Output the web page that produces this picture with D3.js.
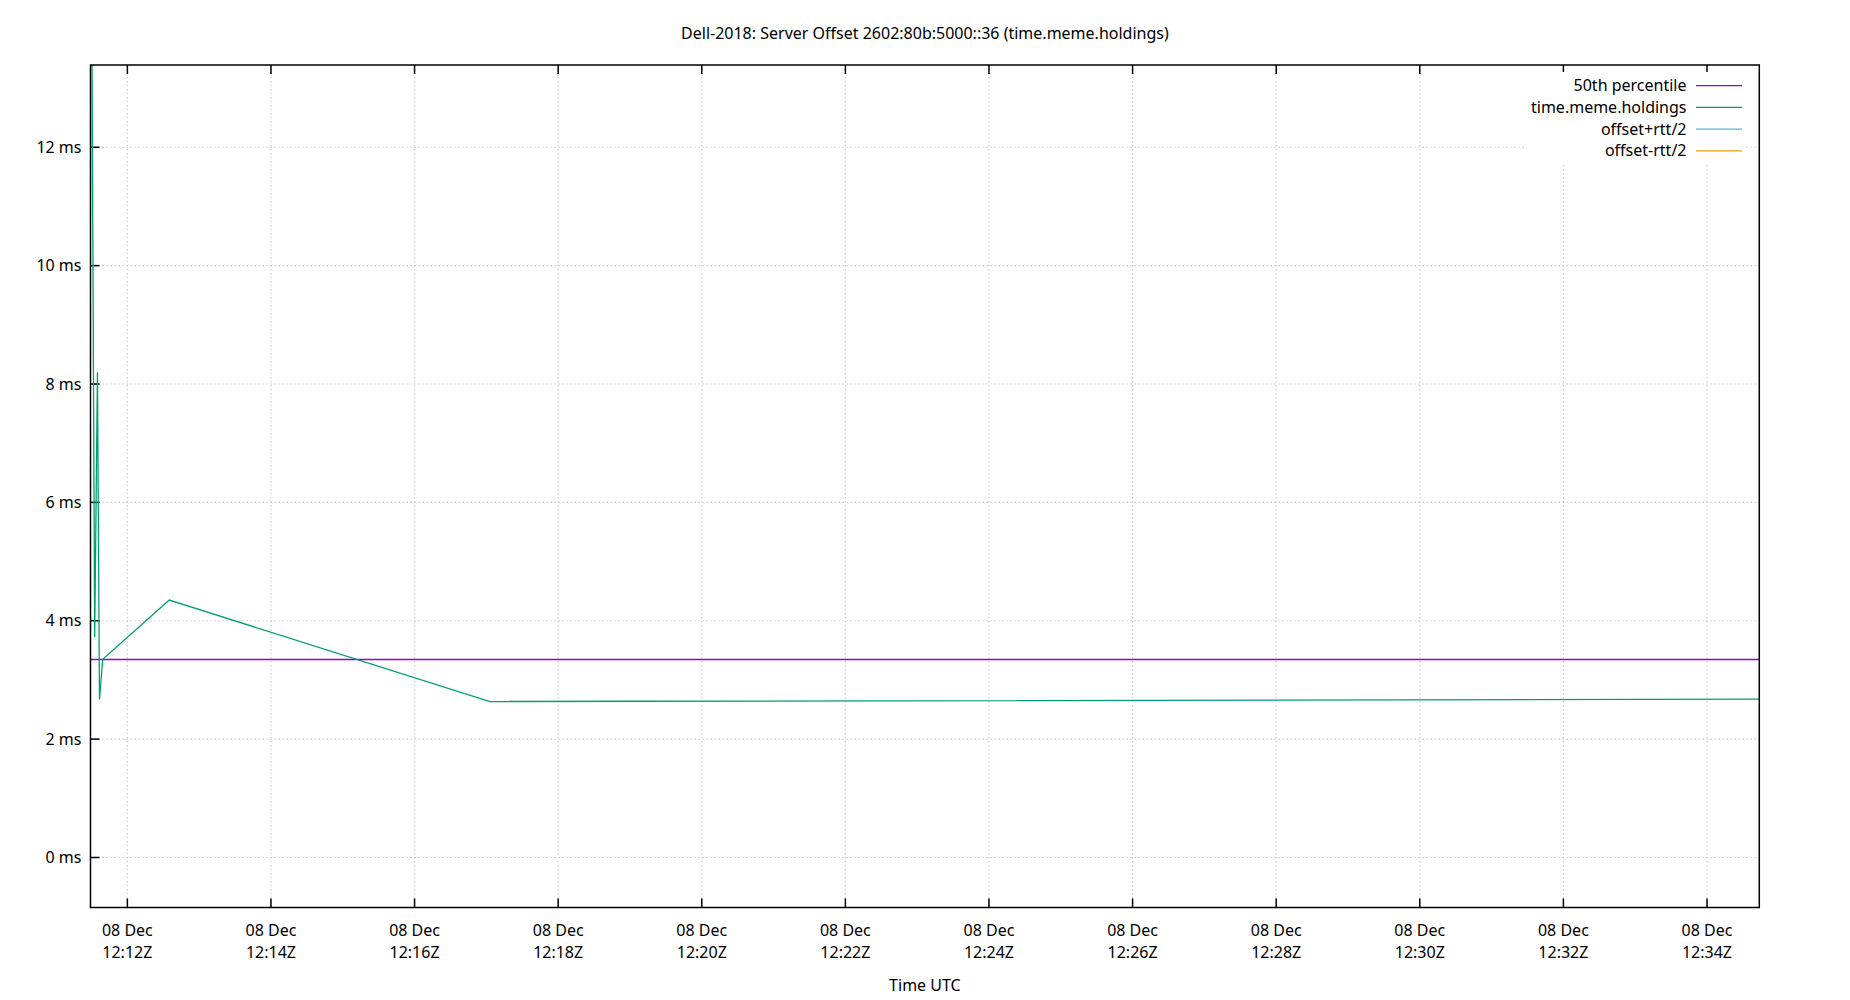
<!DOCTYPE html>
<html>
<head>
<meta charset="utf-8">
<script src="https://cdn.jsdelivr.net/npm/d3@7"></script>
<style>
  body { margin: 0; background: #fff; }
  svg { font-family: "Noto Sans", sans-serif; }
  .grid line { stroke: #c4c4c4; stroke-width: 1.2; stroke-dasharray: 1.3,2.7; }
  .tick-label { font-size: 16px; fill: #000; }
</style>
</head>
<body>
<div id="chart"></div>
<script>
// chart data
const title = "Dell-2018: Server Offset 2602:80b:5000::36 (time.meme.holdings)";
const xLabel = "Time UTC";
const seriesNames = ["50th percentile", "time.meme.holdings", "offset+rtt/2", "offset-rtt/2"];
const seriesColors = ["#9400d3", "#009e73", "#56b4e9", "#e69f00"];

const sampleTimes = [
    "2018-12-08T12:11:29.2Z", "2018-12-08T12:11:32.7Z", "2018-12-08T12:11:35.0Z",
    "2018-12-08T12:11:36.7Z", "2018-12-08T12:11:39.4Z", "2018-12-08T12:12:35.0Z",
    "2018-12-08T12:17:03.0Z", "2018-12-08T12:34:43.7Z"
];
const offsetMs = [19.0, 3.72, 8.2, 2.67, 3.35, 4.35, 2.635, 2.675];
const percentile50 = 3.345;
const yTicks = [0, 2, 4, 6, 8, 10, 12];
const yRange = [-0.845, 13.39];

// layout
const width = 1850, height = 1000;
const margin = {top: 65, right: 90.7, bottom: 92.5, left: 90.5};
const plotW = width - margin.left - margin.right;
const plotH = height - margin.top - margin.bottom;

const svg = d3.select("#chart").append("svg")
    .attr("width", width)
    .attr("height", height);

const times = sampleTimes.map(d => new Date(d));
const data = times.map((t, i) => ({t: t, v: offsetMs[i]}));

const x = d3.scaleUtc()
    .domain([times[0], times[times.length - 1]])
    .range([margin.left, margin.left + plotW]);

const y = d3.scaleLinear()
    .domain(yRange)
    .range([margin.top + plotH, margin.top]);

const xTicks = x.ticks(d3.utcMinute.every(2));

// grid
const grid = svg.append("g").attr("class", "grid");
grid.selectAll(".gx").data(xTicks).enter().append("line")
    .attr("x1", d => x(d)).attr("x2", d => x(d))
    .attr("y1", margin.top).attr("y2", margin.top + plotH);
grid.selectAll(".gy").data(yTicks).enter().append("line")
    .attr("x1", margin.left).attr("x2", margin.left + plotW)
    .attr("y1", d => y(d)).attr("y2", d => y(d));

// tick marks (inward, x mirrored on top)
const ticks = svg.append("g").attr("stroke", "#000").attr("stroke-width", 1.5);
xTicks.forEach(function(d) {
    ticks.append("line").attr("x1", x(d)).attr("x2", x(d))
        .attr("y1", margin.top + plotH).attr("y2", margin.top + plotH - 9);
    ticks.append("line").attr("x1", x(d)).attr("x2", x(d))
        .attr("y1", margin.top).attr("y2", margin.top + 9);
});
yTicks.forEach(function(d) {
    ticks.append("line").attr("x1", margin.left).attr("x2", margin.left + 9)
        .attr("y1", y(d)).attr("y2", y(d));
});

// labels
const fmtDay = d3.utcFormat("%d %b");
const fmtTime = d3.utcFormat("%H:%MZ");
const xl = svg.append("g");
xTicks.forEach(function(d) {
    let t = xl.append("text").attr("class", "tick-label")
        .attr("text-anchor", "middle")
        .attr("x", x(d));
    t.append("tspan").attr("x", x(d)).attr("y", 936).text(fmtDay(d));
    t.append("tspan").attr("x", x(d)).attr("y", 958).text(fmtTime(d));
});
svg.append("g").selectAll("text").data(yTicks).enter().append("text")
    .attr("class", "tick-label")
    .attr("text-anchor", "end")
    .attr("x", 81.5)
    .attr("y", d => y(d) + 5.5)
    .text(d => d + " ms");

svg.append("text")
    .attr("x", margin.left + plotW / 2)
    .attr("y", 39)
    .attr("text-anchor", "middle")
    .style("font-size", "16px")
    .text(title);

svg.append("text")
    .attr("x", margin.left + plotW / 2)
    .attr("y", 991)
    .attr("text-anchor", "middle")
    .style("font-size", "16px")
    .text(xLabel);

// series
svg.append("clipPath").attr("id", "plot-clip")
    .append("rect")
    .attr("x", margin.left).attr("y", margin.top)
    .attr("width", plotW).attr("height", plotH);

const plot = svg.append("g").attr("clip-path", "url(#plot-clip)");

plot.append("line")
    .attr("x1", x.range()[0]).attr("x2", x.range()[1])
    .attr("y1", y(percentile50)).attr("y2", y(percentile50))
    .attr("stroke", seriesColors[0])
    .attr("stroke-width", 1.3);

const line = d3.line()
    .x(d => x(d.t))
    .y(d => y(d.v));

plot.append("path")
    .datum(data)
    .attr("fill", "none")
    .attr("stroke", seriesColors[1])
    .attr("stroke-width", 1.3)
    .attr("d", line);

// legend
svg.append("rect")
    .attr("x", 1527).attr("y", 72)
    .attr("width", 218).attr("height", 92)
    .attr("fill", "#fff");

seriesNames.forEach(function(name, i) {
    let cy = 85.7 + i * 21.7;
    svg.append("text")
        .attr("x", 1686.5)
        .attr("y", cy + 5.5)
        .attr("text-anchor", "end")
        .style("font-size", "16px")
        .text(name);
    svg.append("line")
        .attr("x1", 1696).attr("x2", 1742)
        .attr("y1", cy).attr("y2", cy)
        .attr("stroke", seriesColors[i])
        .attr("stroke-width", 1.3);
});

// border
svg.append("rect")
    .attr("x", margin.left).attr("y", margin.top)
    .attr("width", plotW).attr("height", plotH)
    .attr("fill", "none")
    .attr("stroke", "#000")
    .attr("stroke-width", 1.5);
</script>
</body>
</html>
